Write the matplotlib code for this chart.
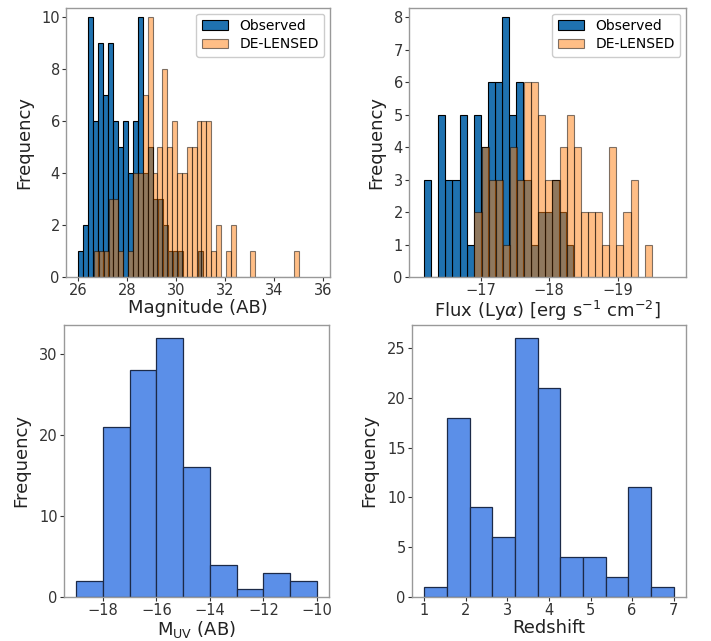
import numpy as np
import matplotlib
matplotlib.use("Agg")
import matplotlib.pyplot as plt

# ---------------- data ----------------
# Panel 1: apparent magnitude (AB), bins of ~0.2 mag
mag_obs_start, mag_obs_stop = 26.0, 31.09
mag_obs_counts = [1, 2, 10, 6, 9, 7, 9, 6, 5, 6, 4, 6, 10, 4, 5, 3, 3, 2, 1, 1, 1, 0, 0, 0, 1]
mag_del_start, mag_del_stop = 26.64, 35.04
mag_del_counts = [1, 1, 1, 3, 3, 1, 0, 1, 4, 4, 7, 10, 4, 5, 8, 5, 6, 4, 4, 5, 5,
                  6, 6, 6, 1, 2, 0, 1, 2, 0, 0, 0, 1, 0, 0, 0, 0, 0, 0, 0, 0, 1]

# Panel 2: log Lya flux, bins of ~0.104 dex (from bright to faint)
flux_obs_start, flux_obs_stop = -16.17, -18.35
flux_obs_counts = [3, 0, 5, 3, 3, 5, 1, 5, 4, 6, 6, 8, 5, 6, 3, 1, 2, 2, 3, 2, 1]
flux_del_start, flux_del_stop = -16.907, -19.50
flux_del_counts = [2, 4, 3, 3, 1, 4, 3, 6, 6, 5, 3, 3, 4, 5, 4, 2, 2, 2, 1, 4, 1, 2, 3, 0, 1]

# Panel 3: M_UV
muv_edges = [-19, -18, -17, -16, -15, -14, -13, -12, -11, -10]
muv_counts = [2, 21, 28, 32, 16, 4, 1, 3, 2]

# Panel 4: redshift
z_start, z_stop = 1.0, 7.0
z_counts = [1, 18, 9, 6, 26, 21, 4, 4, 2, 11, 1]

legend_labels = ["Observed", "DE-LENSED"]
xlabels = ["Magnitude (AB)", r"Flux (Ly$\alpha$) [erg s$^{-1}$ cm$^{-2}$]",
           r"M$_{\mathrm{UV}}$ (AB)", "Redshift"]


def weighted_hist(ax, start, stop, counts, **kw):
    edges = np.linspace(start, stop, len(counts) + 1)
    centers = 0.5 * (edges[:-1] + edges[1:])
    return ax.hist(centers, bins=np.sort(edges), weights=counts, **kw)


W, H = 711, 641
fig = plt.figure(figsize=(W / 100, H / 100), dpi=100)


def add_ax(l, t, r, b):
    return fig.add_axes([l / W, 1 - b / H, (r - l) / W, (b - t) / H])


ax1 = add_ax(66, 8, 330, 277)
ax2 = add_ax(409, 8, 686, 277)
ax3 = add_ax(64, 325, 329, 597)
ax4 = add_ax(412, 325, 686, 597)

c_obs = "#1f72b0"
c_del = "#ff7f0e"
c_bot = "#5b8fe8"

weighted_hist(ax1, mag_obs_start, mag_obs_stop, mag_obs_counts,
              color=c_obs, edgecolor="black", linewidth=0.8, label=legend_labels[0])
weighted_hist(ax1, mag_del_start, mag_del_stop, mag_del_counts,
              color=c_del, edgecolor="black", linewidth=0.8, alpha=0.5, label=legend_labels[1])
ax1.set_xlim(25.5, 36.3)
ax1.set_ylim(0, 10.35)
ax1.set_xticks([26, 28, 30, 32, 34, 36])
ax1.set_yticks([0, 2, 4, 6, 8, 10])

weighted_hist(ax2, flux_obs_start, flux_obs_stop, flux_obs_counts,
              color=c_obs, edgecolor="black", linewidth=0.8, label=legend_labels[0])
weighted_hist(ax2, flux_del_start, flux_del_stop, flux_del_counts,
              color=c_del, edgecolor="black", linewidth=0.8, alpha=0.5, label=legend_labels[1])
ax2.set_xlim(-15.95, -20.0)
ax2.set_ylim(0, 8.28)
ax2.set_xticks([-17, -18, -19])
ax2.set_yticks(range(0, 9))

ax3.hist(0.5 * (np.array(muv_edges[:-1]) + np.array(muv_edges[1:])), bins=muv_edges,
         weights=muv_counts, color=c_bot, edgecolor="#1c2a48", linewidth=0.9)
ax3.set_xticks([-18, -16, -14, -12, -10])
ax3.set_yticks([0, 10, 20, 30])

weighted_hist(ax4, z_start, z_stop, z_counts, color=c_bot, edgecolor="#1c2a48", linewidth=0.9)
ax4.set_xticks([1, 2, 3, 4, 5, 6, 7])
ax4.set_yticks([0, 5, 10, 15, 20, 25])

for ax, xl in zip([ax1, ax2, ax3, ax4], xlabels):
    ax.set_xlabel(xl, fontsize=13, color="#222222", labelpad=0.5)
    ax.set_ylabel("Frequency", fontsize=13, color="#222222", labelpad=6)
    ax.tick_params(labelsize=10.5, colors="#333333", length=3, width=0.8, pad=1.5)
    for s in ax.spines.values():
        s.set_color("#999999")
        s.set_linewidth(1.0)

for ax in (ax1, ax2):
    leg = ax.legend(loc="upper right", fontsize=10, framealpha=1, edgecolor="#cccccc",
                    borderpad=0.4, handlelength=1.9, labelspacing=0.3,
                    borderaxespad=0.4)

fig.savefig("out.png", dpi=100)
